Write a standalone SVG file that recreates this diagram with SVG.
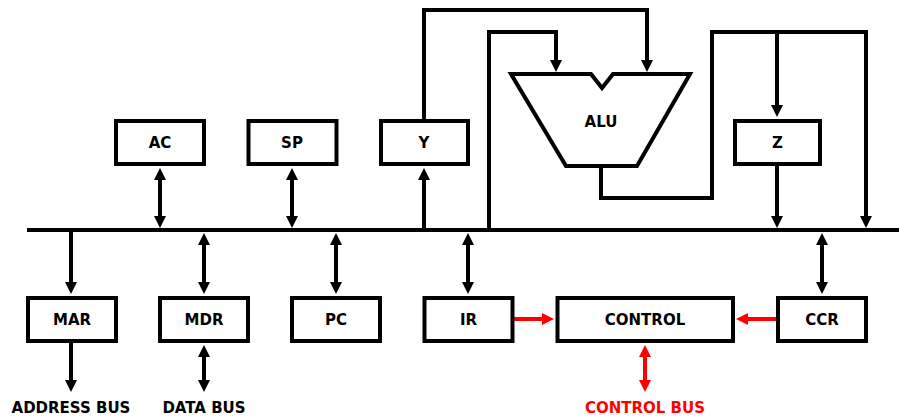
<svg xmlns="http://www.w3.org/2000/svg" width="899" height="417" viewBox="0 0 899 417">
<style>
.box{fill:#fff;stroke:#000;stroke-width:4}
.lbl{font-family:"DejaVu Sans","Liberation Sans",sans-serif;font-weight:bold;font-size:15px;text-anchor:middle;fill:#000}
.red{fill:#ff0000}
.c{fill:none;stroke:#000;stroke-width:4}
.cr{fill:none;stroke:#ff0000;stroke-width:4}
</style>
<defs>
<marker id="ah" markerUnits="userSpaceOnUse" markerWidth="12" markerHeight="12" refX="4" refY="6" orient="auto-start-reverse"><path d="M0,0 L12,6 L0,12 z" fill="#000"/></marker>
<marker id="ahr" markerUnits="userSpaceOnUse" markerWidth="12" markerHeight="12" refX="4" refY="6" orient="auto-start-reverse"><path d="M0,0 L12,6 L0,12 z" fill="#ff0000"/></marker>
</defs>
<rect width="899" height="417" fill="#fff"/>
<g id="connectors">
<line class="c" x1="27" y1="230" x2="899" y2="230"/>
<path class="c" d="M160,176 V220" marker-start="url(#ah)" marker-end="url(#ah)"/>
<path class="c" d="M292,176 V220" marker-start="url(#ah)" marker-end="url(#ah)"/>
<path class="c" d="M424,230 V176" marker-end="url(#ah)"/>
<path class="c" d="M424,121 V10 H647 V64" marker-end="url(#ah)"/>
<path class="c" d="M489,230 V32 H556 V64" marker-end="url(#ah)"/>
<path class="c" d="M601,166 V198 H712 V32 H866 V220" marker-end="url(#ah)"/>
<path class="c" d="M777,32 V109" marker-end="url(#ah)"/>
<path class="c" d="M777,164 V220" marker-end="url(#ah)"/>
<path class="c" d="M71,230 V286" marker-end="url(#ah)"/>
<path class="c" d="M204,241 V286" marker-start="url(#ah)" marker-end="url(#ah)"/>
<path class="c" d="M336,241 V286" marker-start="url(#ah)" marker-end="url(#ah)"/>
<path class="c" d="M468,241 V286" marker-start="url(#ah)" marker-end="url(#ah)"/>
<path class="c" d="M822,241 V286" marker-start="url(#ah)" marker-end="url(#ah)"/>
<path class="c" d="M71,341 V384" marker-end="url(#ah)"/>
<path class="c" d="M204,353 V384" marker-start="url(#ah)" marker-end="url(#ah)"/>
<path class="cr" d="M514,319 H546" marker-end="url(#ahr)"/>
<path class="cr" d="M776,319 H744" marker-end="url(#ahr)"/>
<path class="cr" d="M645,353 V384" marker-start="url(#ahr)" marker-end="url(#ahr)"/>
</g>
<g id="AC"><rect class="box" x="116" y="121" width="88" height="43"/><text class="lbl" x="160" y="148">AC</text></g>
<g id="SP"><rect class="box" x="248.5" y="121" width="88" height="43"/><text class="lbl" x="292" y="148">SP</text></g>
<g id="Y"><rect class="box" x="381" y="121" width="87" height="43"/><text class="lbl" x="424" y="148">Y</text></g>
<g id="ALU"><path class="box" d="M511,74 H591 L602,88 L613,74 H690 L637,166 H566 Z"/><text class="lbl" x="601" y="127">ALU</text></g>
<g id="Z"><rect class="box" x="735" y="121" width="85" height="43"/><text class="lbl" x="777.5" y="148">Z</text></g>
<g id="MAR"><rect class="box" x="28" y="298" width="88" height="43"/><text class="lbl" x="72" y="325">MAR</text></g>
<g id="MDR"><rect class="box" x="160" y="298" width="88" height="43"/><text class="lbl" x="204" y="325">MDR</text></g>
<g id="PC"><rect class="box" x="292" y="298" width="88" height="43"/><text class="lbl" x="336" y="325">PC</text></g>
<g id="IR"><rect class="box" x="424.5" y="298" width="88" height="43"/><text class="lbl" x="468.5" y="325">IR</text></g>
<g id="CONTROL"><rect class="box" x="557.5" y="298" width="175.5" height="43"/><text class="lbl" x="645" y="325">CONTROL</text></g>
<g id="CCR"><rect class="box" x="778" y="298" width="88" height="43"/><text class="lbl" x="822" y="325">CCR</text></g>
<g id="labels">
<text class="lbl" x="71" y="413">ADDRESS BUS</text>
<text class="lbl" x="204" y="413">DATA BUS</text>
<text class="lbl red" x="645" y="413">CONTROL BUS</text>
</g>
</svg>
